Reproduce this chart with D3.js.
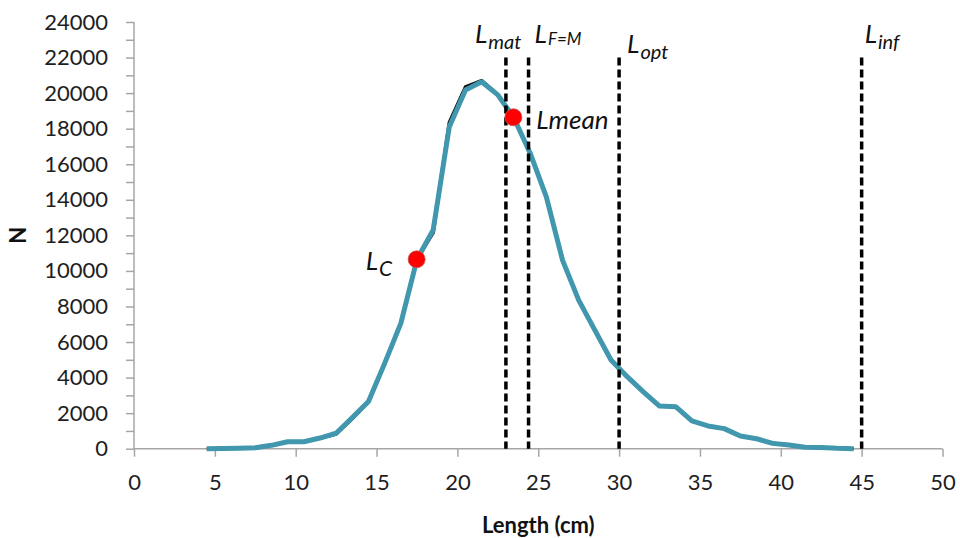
<!DOCTYPE html>
<html>
<head>
<meta charset="utf-8">
<script src="https://cdn.jsdelivr.net/npm/d3@7/dist/d3.min.js"></script>
<style>
  html, body { margin: 0; padding: 0; background: #fff; }
  svg { display: block; }
  .axis text { font-family: Lato, "Open Sans", sans-serif; font-size: 22px; fill: #1e1e1e; }
  .axis path, .axis line { stroke: #a6a6a6; stroke-width: 1.5; }
</style>
</head>
<body>
<svg id="chart" width="960" height="538"></svg>
<script>
// ---- Data ----
const lengths = [4.5,5.5,6.5,7.5,8.5,9.5,10.5,11.5,12.5,13.5,14.5,15.5,16.5,17.5,18.5,19.5,20.5,21.5,22.5,23.5,24.5,25.5,26.5,27.5,28.5,29.5,30.5,31.5,32.5,33.5,34.5,35.5,36.5,37.5,38.5,39.5,40.5,41.5,42.5,43.5,44.5];
const fittedN = [0,10,30,50,190,390,390,600,870,1750,2650,4800,7050,10650,12300,18110,20180,20640,19900,18600,16620,14170,10610,8360,6670,4990,4050,3200,2400,2360,1560,1280,1130,710,560,300,210,80,70,20,0];
const observedN = [0,10,30,50,190,390,390,600,830,1700,2650,4800,7050,10650,12150,18350,20350,20700,19900,18600,16620,14170,10610,8360,6670,4990,4050,3200,2400,2360,1560,1280,1130,710,560,300,210,80,70,20,0];

const refLines = [
  { name: "mat", value: 23.0 },
  { name: "F=M", value: 24.4 },
  { name: "opt", value: 30.0 },
  { name: "inf", value: 45.0 }
];
const refLineTop = 22000;
const points = [
  { name: "C", length: 17.48, n: 10650 },
  { name: "mean", length: 23.46, n: 18640 }
];

const xTicks = [0,5,10,15,20,25,30,35,40,45,50];
const yTicks = d3.range(0, 24001, 1000);
const xTitle = "Length (cm)";
const yTitle = "N";

// ---- Scales ----
const svg = d3.select("#chart");
const x = d3.scaleLinear().domain([0, 50]).range([134, 942.5]);
const y = d3.scaleLinear().domain([0, 24000]).range([448.7, 22]);

// ---- Axes ----
svg.append("g")
  .attr("class", "axis")
  .attr("transform", `translate(${x(0)},0)`)
  .call(d3.axisLeft(y).tickValues(yTicks).tickSize(8).tickPadding(18)
    .tickFormat(d => d % 2000 === 0 ? String(d) : ""))
  .call(g => g.select(".domain").attr("d", `M0,${y(0)}V${y(24000)}`));

svg.append("g")
  .attr("class", "axis")
  .attr("transform", `translate(0,${y(0)})`)
  .call(d3.axisBottom(x).tickValues(xTicks).tickSize(8).tickPadding(18))
  .call(g => g.select(".domain").attr("d", `M${x(0)},0H${x(50)}`));

// Axis titles
svg.append("text")
  .attr("x", (x(0) + x(50)) / 2).attr("y", 533)
  .attr("text-anchor", "middle")
  .style("font-family", "Lato, 'Open Sans', sans-serif")
  .style("font-weight", "bold").style("font-size", "22px").style("fill", "#111")
  .text(xTitle);

svg.append("text")
  .attr("transform", `translate(26,${(y(0) + y(24000)) / 2}) rotate(-90)`)
  .attr("text-anchor", "middle")
  .style("font-family", "Lato, 'Open Sans', sans-serif")
  .style("font-weight", "bold").style("font-size", "22px").style("fill", "#111")
  .text(yTitle);

// ---- Lines ----
const line = d3.line().x((d, i) => x(lengths[i])).y(d => y(d));

svg.append("path")
  .datum(observedN)
  .attr("d", line)
  .attr("fill", "none")
  .attr("stroke", "#111")
  .attr("stroke-width", 3.5)
  .attr("stroke-linejoin", "round");

svg.append("path")
  .datum(fittedN)
  .attr("d", line)
  .attr("fill", "none")
  .attr("stroke", "#4197ae")
  .attr("stroke-width", 5)
  .attr("stroke-linejoin", "round");

// ---- Reference lines ----
svg.selectAll(".ref")
  .data(refLines)
  .join("line")
  .attr("class", "ref")
  .attr("x1", d => x(d.value)).attr("x2", d => x(d.value))
  .attr("y1", y(refLineTop)).attr("y2", y(0))
  .attr("stroke", "#000")
  .attr("stroke-width", 3.5)
  .attr("stroke-dasharray", "8,4");

// ---- Points ----
svg.selectAll(".pt")
  .data(points)
  .join("circle")
  .attr("class", "pt")
  .attr("cx", d => x(d.length)).attr("cy", d => y(d.n))
  .attr("r", 8.5)
  .attr("fill", "#ff0000")
  .attr("stroke", "#c85050")
  .attr("stroke-width", 0.8);

// ---- Labels ----
const labelFont = "Lato, 'Open Sans', sans-serif";
function addLabel(xPos, yPos, sub, subSize, subDy) {
  const t = svg.append("text")
    .attr("x", xPos).attr("y", yPos)
    .style("font-family", labelFont)
    .style("font-style", "italic")
    .style("font-size", "26px")
    .style("fill", "#111");
  t.append("tspan").text("L");
  t.append("tspan").attr("dy", subDy).attr("dx", 1).style("font-size", subSize).text(sub);
}
addLabel(x(refLines[0].value) - 31, 43, refLines[0].name, "20px", 6);
addLabel(x(refLines[1].value) + 6, 43, refLines[1].name, "17px", 2);
addLabel(x(refLines[2].value) + 8, 53, refLines[2].name, "20px", 6);
addLabel(x(refLines[3].value) + 3, 43, refLines[3].name, "20px", 6);
addLabel(x(points[0].length) - 51, 270, points[0].name, "21px", 6);

svg.append("text")
  .attr("x", x(points[1].length) + 23).attr("y", 129)
  .style("font-family", labelFont)
  .style("font-style", "italic")
  .style("font-size", "26px")
  .style("fill", "#111")
  .text("L" + points[1].name);
</script>
</body>
</html>
